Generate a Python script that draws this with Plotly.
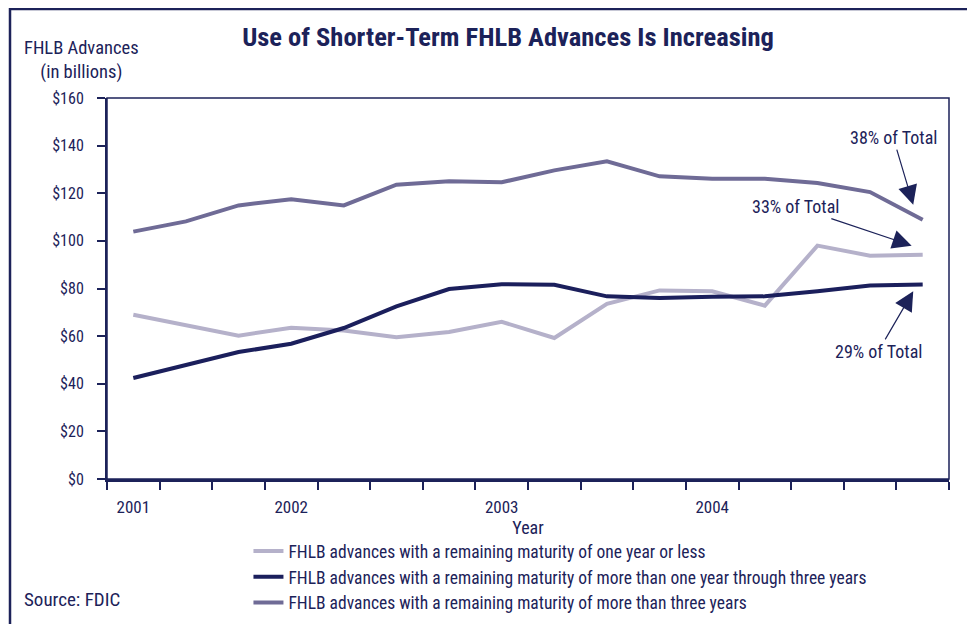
import plotly.graph_objects as go

quarters = ["2001Q1", "2001Q2", "2001Q3", "2001Q4",
            "2002Q1", "2002Q2", "2002Q3", "2002Q4",
            "2003Q1", "2003Q2", "2003Q3", "2003Q4",
            "2004Q1", "2004Q2", "2004Q3", "2004Q4"]
one_year_or_less = [69.0, 64.8, 60.2, 63.5, 62.4, 59.5, 61.7, 66.0,
                    59.2, 73.6, 79.2, 78.8, 72.8, 98.0, 93.8, 94.2]
one_to_three_years = [42.4, 48.0, 53.3, 56.8, 63.4, 72.5, 79.8, 81.8,
                      81.6, 76.7, 76.0, 76.5, 76.7, 78.8, 81.3, 81.7]
over_three_years = [103.9, 108.2, 114.9, 117.5, 114.9, 123.6, 125.0, 124.6,
                    129.6, 133.4, 127.1, 126.1, 126.1, 124.3, 120.5, 108.9]
series_names = [
    "FHLB advances with a remaining maturity of one year or less",
    "FHLB advances with a remaining maturity of more than one year through three years",
    "FHLB advances with a remaining maturity of more than three years",
]
year_tick_pos = [0, 3, 7, 11]
year_tick_text = ["2001", "2002", "2003", "2004"]
y_tick_vals = [0, 20, 40, 60, 80, 100, 120, 140, 160]
y_tick_text = ["$0", "$20", "$40", "$60", "$80", "$100", "$120", "$140", "$160"]
share_labels = ["38% of Total", "33% of Total", "29% of Total"]

NAVY = "#1c2259"
FONT = "Roboto Condensed, Roboto, sans-serif"
colors = ["#b5b1ca", "#1b1f5c", "#6f6b96"]

x = list(range(len(quarters)))
fig = go.Figure()
for name, vals, col in zip(series_names, [one_year_or_less, one_to_three_years, over_three_years], colors):
    fig.add_trace(go.Scatter(x=x, y=vals, mode="lines", name=name,
                             line=dict(color=col, width=4)))

last = len(quarters) - 1
ann_specs = [
    (share_labels[0], last - 0.18, over_three_years[-1] + 6.3, -20, -67),
    (share_labels[1], last - 0.21, one_year_or_less[-1] + 3.8, -116, -39),
    (share_labels[2], last - 0.18, one_to_three_years[-1] - 2.9, -35, 60),
]
annotations = []
for text, ax_x, ax_y, dx, dy in ann_specs:
    annotations.append(dict(x=ax_x, y=ax_y, xref="x", yref="y", text=text,
                            showarrow=True, ax=dx, ay=dy, arrowhead=2, arrowsize=3.2,
                            arrowwidth=1.2, arrowcolor=NAVY,
                            font=dict(family=FONT, size=18, color=NAVY)))

annotations.append(dict(x=-0.0297, y=1.0997, xref="paper", yref="paper",
                        text="FHLB Advances<br>(in billions)", showarrow=False,
                        xanchor="center", yanchor="middle",
                        font=dict(family=FONT, size=18.5, color=NAVY)))
annotations.append(dict(x=-0.1010, y=-0.317, xref="paper", yref="paper",
                        text="Source: FDIC", showarrow=False,
                        xanchor="left", yanchor="middle",
                        font=dict(family=FONT, size=19, color=NAVY)))

shapes = [
    dict(type="rect", xref="paper", yref="paper", x0=0, x1=1, y0=0, y1=1,
         line=dict(color=NAVY, width=1.5), layer="below"),
    dict(type="rect", xref="paper", yref="paper", x0=-0.1152, x1=1.2, y0=-0.6, y1=1.2335,
         line=dict(color=NAVY, width=2.5), layer="below"),
]

fig.update_layout(
    width=975, height=624,
    margin=dict(l=99, r=34, t=90, b=153, autoexpand=False),
    paper_bgcolor="white", plot_bgcolor="white",
    font=dict(family=FONT, size=17, color=NAVY),
    title=dict(text="<b>Use of Shorter-Term FHLB Advances Is Increasing</b>",
               x=0.5128, xanchor="center", y=1 - 29 / 624, yanchor="middle",
               font=dict(family=FONT, size=26.5, color=NAVY)),
    showlegend=True,
    legend=dict(x=0.168, y=-0.142, xanchor="left", yanchor="top",
                font=dict(family=FONT, size=17.5, color=NAVY),
                itemwidth=30, tracegroupgap=0, bgcolor="rgba(0,0,0,0)"),
    annotations=annotations,
    shapes=shapes,
)
fig.update_xaxes(range=[-0.5, last + 0.5], tickmode="array", tickvals=year_tick_pos,
                 ticktext=year_tick_text, ticks="", showgrid=False, zeroline=False,
                 showline=True, linecolor=NAVY, linewidth=3, automargin=False,
                 ticklabelstandoff=11,
                 tickfont=dict(family=FONT, size=17, color=NAVY),
                 minor=dict(ticks="outside", tick0=-0.5, dtick=1, ticklen=8,
                            tickcolor=NAVY, tickwidth=1.5, showgrid=False),
                 title=dict(text="Year", standoff=5,
                            font=dict(family=FONT, size=18, color=NAVY)))
fig.update_yaxes(range=[0, 160], tickmode="array", tickvals=y_tick_vals, ticktext=y_tick_text,
                 ticks="outside", ticklen=8, tickcolor=NAVY, tickwidth=1.5,
                 showgrid=False, zeroline=False, showline=True, linecolor=NAVY, linewidth=2,
                 ticklabelstandoff=10, automargin=False,
                 tickfont=dict(family=FONT, size=16, color=NAVY))

fig.write_html("out.html")
